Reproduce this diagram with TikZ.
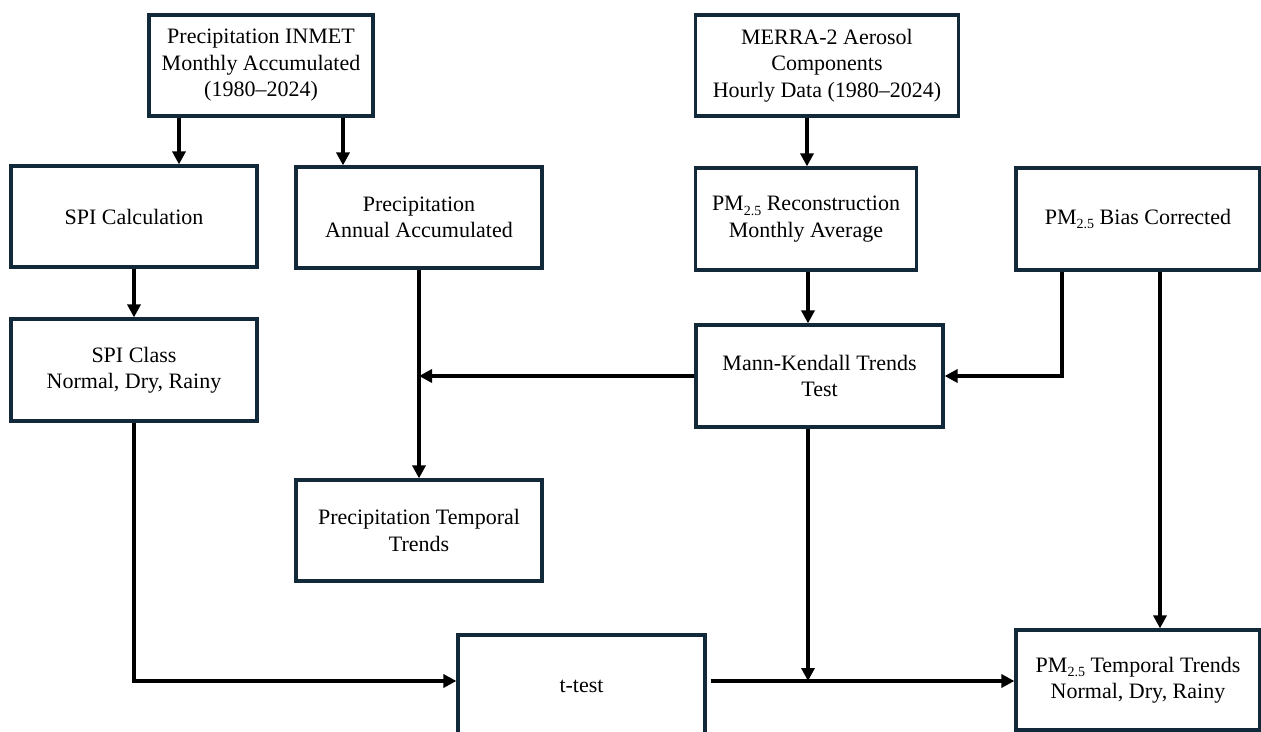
\documentclass[tikz,border=0pt]{standalone}
\usepackage{fontspec}
\setmainfont{Liberation Serif}
\usetikzlibrary{arrows.meta}
\definecolor{boxline}{HTML}{12293A}
\newcommand{\pmsub}{PM\raisebox{-0.45ex}{\fontsize{14}{14}\selectfont 2.5}}
\tikzset{
  box/.style={draw=boxline, line width=3.2pt, fill=white, align=center, inner sep=4pt,
    font=\fontsize{22}{26.5}\selectfont},
  arr/.style={draw=black, line width=3.5pt, -{Triangle[length=13pt,width=13pt]}},
  ln/.style={draw=black, line width=3.5pt}
}
\begin{document}
\begin{tikzpicture}[x=1pt,y=-1pt]
\useasboundingbox (0,0) rectangle (1261,731);
\clip (0,0) rectangle (1261,731);
\fill[white] (0,0) rectangle (1261,731);

\node[box, minimum width=224pt, minimum height=101pt] (inmet) at (261,65.5)
  {Precipitation INMET\\Monthly Accumulated\\(1980--2024)};
\node[box, minimum width=263pt, minimum height=101pt] (merra) at (827,65.5)
  {MERRA-2 Aerosol\\Components\\Hourly Data (1980--2024)};
\node[box, minimum width=246pt, minimum height=101pt] (spicalc) at (134,216.5)
  {SPI Calculation};
\node[box, minimum width=246pt, minimum height=101pt] (annual) at (419,217.5)
  {Precipitation\\Annual Accumulated};
\node[box, minimum width=221pt, minimum height=102pt] (recon) at (806,219)
  {\pmsub{} Reconstruction\\Monthly Average};
\node[box, minimum width=244pt, minimum height=102pt] (bias) at (1138,219)
  {\pmsub{} Bias Corrected};
\node[box, minimum width=246pt, minimum height=102pt] (spiclass) at (134,370)
  {SPI Class\\Normal, Dry, Rainy};
\node[box, minimum width=247pt, minimum height=102pt] (mk) at (819.5,376)
  {Mann-Kendall Trends\\Test};
\node[box, minimum width=246pt, minimum height=101pt] (ptemp) at (419,530.5)
  {Precipitation Temporal\\Trends};
\node[box, minimum width=247pt, minimum height=102pt] (ttest) at (581.5,686)
  {t-test};
\node[box, minimum width=244pt, minimum height=100pt] (pmtemp) at (1138,680)
  {\pmsub{} Temporal Trends\\Normal, Dry, Rainy};

\coordinate (a1) at (179,0);
\coordinate (a2) at (343,0);
\coordinate (a3) at (807,0);
\coordinate (b1) at (1062,0);
\coordinate (b2) at (1160,0);
\coordinate (m1) at (808,0);
\coordinate (r1) at (0,681);

\draw[arr] (inmet.south -| a1) -- (spicalc.north -| a1);
\draw[arr] (inmet.south -| a2) -- (annual.north -| a2);
\draw[arr] (merra.south -| a3) -- (recon.north -| a3);
\draw[arr] (spicalc.south) -- (spiclass.north);
\draw[arr] (recon.south -| m1) -- (mk.north -| m1);
\draw[arr] (bias.south -| b1) |- (mk.east);
\draw[arr] (bias.south -| b2) -- (pmtemp.north -| b2);
\draw[arr] (mk.west) -- (mk.west -| annual.south);
\draw[arr] (annual.south) -- (ptemp.north);
\draw[arr] (spiclass.south) |- (ttest.west |- r1);
\draw[arr] ([xshift=4pt]ttest.east |- r1) -- (pmtemp.west |- r1);
\draw[arr] (mk.south -| m1) -- (m1 |- r1);
\end{tikzpicture}
\end{document}
